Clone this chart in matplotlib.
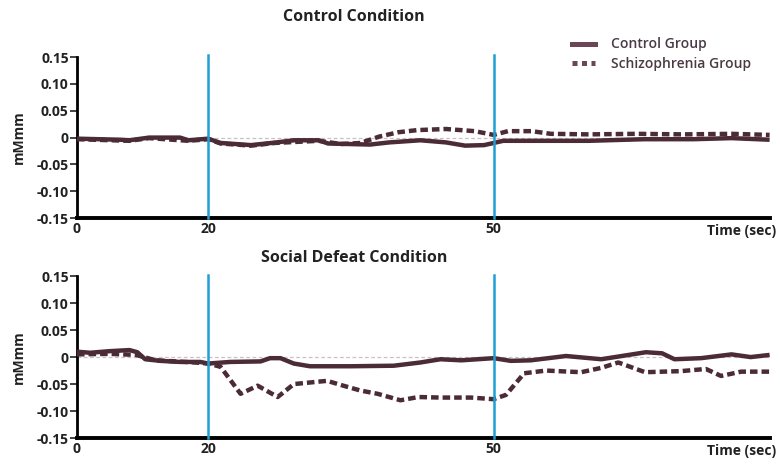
"""
Control vs social-defeat condition: mean signal over time for the two groups.
Values read off the published figure.
"""
import matplotlib.pyplot as plt
import numpy as np
from matplotlib.lines import Line2D

plt.rcParams["font.family"] = ["Open Sans", "DejaVu Sans"]

# ---- data (time in sec, signal in mMmm) ----
ctrl_top_t = [0, 6.6, 8, 11, 15.7, 17, 20, 21.3, 24.5, 27.2, 29, 31.6, 32.6, 37, 39,
              42.3, 45, 47, 49, 51, 60, 65.8, 71, 75, 79]
ctrl_top_y = [-0.002, -0.004, -0.005, 0.0, 0.0, -0.005, -0.002, -0.010, -0.014, -0.009,
              -0.005, -0.005, -0.011, -0.013, -0.009, -0.005, -0.009, -0.015, -0.014,
              -0.006, -0.006, -0.003, -0.003, -0.001, -0.004]

schz_top_t = [0, 8, 11, 17, 20, 21.3, 24.5, 27, 31.6, 34, 36, 38, 40, 42, 45, 48, 50,
              51.5, 54, 56, 60, 65, 70, 75, 79]
schz_top_y = [-0.003, -0.006, -0.001, -0.006, -0.003, -0.011, -0.015, -0.010, -0.006,
              -0.012, -0.010, 0.002, 0.010, 0.014, 0.016, 0.012, 0.005, 0.012, 0.012,
              0.007, 0.006, 0.007, 0.006, 0.007, 0.005]

ctrl_bot_t = [0, 2, 5, 8, 9.2, 10.4, 12.7, 15.7, 18.8, 20, 22.3, 25.5, 26.5, 27.6, 29,
              30.7, 35, 39.5, 42.3, 44.4, 46.6, 50, 51.8, 53.9, 57.6, 61.3, 66, 67.7,
              69, 71.8, 75, 77, 79]
ctrl_bot_y = [0.010, 0.008, 0.011, 0.013, 0.009, -0.004, -0.007, -0.009, -0.009, -0.012,
              -0.009, -0.008, -0.002, -0.002, -0.012, -0.017, -0.017, -0.016, -0.010,
              -0.004, -0.006, -0.002, -0.007, -0.006, 0.002, -0.004, 0.009, 0.007,
              -0.004, -0.002, 0.005, 0.0, 0.004]

schz_bot_t = [0, 5, 9, 12, 18, 20, 21.3, 23.4, 25.2, 27.3, 29, 32.5, 34.2, 36, 37.8,
              40.2, 42.1, 44.4, 47.6, 50, 51.3, 53.2, 55.5, 59.2, 61.3, 63.1, 65.9,
              69.7, 72.3, 73.9, 76, 79]
schz_bot_y = [0.005, 0.006, 0.004, -0.006, -0.010, -0.012, -0.018, -0.068, -0.053,
              -0.074, -0.050, -0.044, -0.053, -0.062, -0.068, -0.080, -0.074, -0.075,
              -0.075, -0.078, -0.070, -0.030, -0.025, -0.028, -0.020, -0.010, -0.028,
              -0.026, -0.022, -0.035, -0.027, -0.027]

markers_t = [20, 50]
yticks = [0.15, 0.10, 0.05, 0, -0.05, -0.10, -0.15]
ytick_labels = ["0.15", "0.10", "0.05", "0", "-0.05", "-0.10", "-0.15"]
xticks = [0, 20, 50]

LINE = "#4b2b35"
BLUE = "#1e9fd6"


# the original time axis is stretched after the 20 s mark
def fwd(t):
    t = np.asarray(t, dtype=float)
    return np.where(t < 20, t * 131 / 20, 131 + (t - 20) * 9.5)


def inv(u):
    u = np.asarray(u, dtype=float)
    return np.where(u < 131, u * 20 / 131, 20 + (u - 131) / 9.5)


fig = plt.figure(figsize=(7.8, 4.68), dpi=100)
ax_top = fig.add_axes([0.0987, 0.534, 0.888, 0.344])
ax_bot = fig.add_axes([0.0987, 0.064, 0.888, 0.346])

panels = [
    (ax_top, "Control Condition", 1.25, ctrl_top_t, ctrl_top_y, schz_top_t, schz_top_y),
    (ax_bot, "Social Defeat Condition", 1.11, ctrl_bot_t, ctrl_bot_y, schz_bot_t, schz_bot_y),
]

for ax, title, title_y, ct, cy, st, sy in panels:
    ax.set_xscale("function", functions=(fwd, inv))
    ax.set_xlim(0, 79)
    ax.set_ylim(-0.15, 0.15)
    ax.axhline(0, color="#cdbfc3", lw=0.9, ls=(0, (3, 2)), zorder=1)
    ax.plot(st, sy, color=LINE, lw=3.2, ls=(0, (1.7, 0.9)), zorder=3)
    ax.plot(ct, cy, color=LINE, lw=3.2, solid_capstyle="butt", zorder=4)
    for t in markers_t:
        ax.axvline(t, color=BLUE, lw=1.8, zorder=5, ymax=1.01, clip_on=False)

    for s in ["top", "right"]:
        ax.spines[s].set_visible(False)
    ax.spines["left"].set_linewidth(2.0)
    ax.spines["bottom"].set_linewidth(2.8)
    ax.set_yticks(yticks)
    ax.set_yticklabels(ytick_labels)
    ax.set_xticks(xticks)
    ax.set_xticklabels([str(x) for x in xticks])
    ax.xaxis.set_minor_locator(plt.NullLocator())
    ax.tick_params(axis="y", direction="out", length=5, width=1.2,
                   labelsize=10, pad=1, colors="#222222")
    ax.tick_params(axis="x", length=0, labelsize=10, pad=3, colors="#222222")
    for lbl in ax.get_xticklabels() + ax.get_yticklabels():
        lbl.set_fontweight("bold")
    ax.set_ylabel("mMmm", fontsize=10, fontweight="bold", labelpad=8, color="#222222")
    ax.text(0.40, title_y, title, transform=ax.transAxes, ha="center", va="center",
            fontsize=11.5, fontweight="bold", color="#222222")
    ax.text(1.01, -0.035, "Time (sec)", transform=ax.transAxes, ha="right", va="top",
            fontsize=10, fontweight="bold", color="#222222")

handles = [
    Line2D([], [], color="#6a4657", lw=3.6),
    Line2D([], [], color="#6a4657", lw=3.6, ls=(0, (1.0, 0.9))),
]
leg = fig.legend(handles, ["Control Group", "Schizophrenia Group"],
                 loc="upper left", bbox_to_anchor=(0.724, 0.935), frameon=False,
                 fontsize=10, handlelength=1.7, handletextpad=1.1, labelspacing=0.4,
                 borderpad=0)
for txt in leg.get_texts():
    txt.set_fontweight("semibold")
    txt.set_color("#4a3a44")

fig.savefig("out.png", dpi=100)
